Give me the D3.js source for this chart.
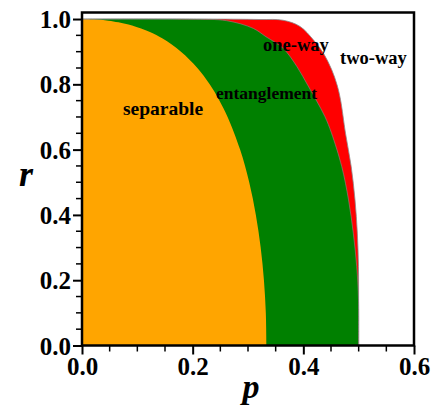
<!DOCTYPE html>
<html>
<head>
<meta charset="utf-8">
<script src="https://cdn.jsdelivr.net/npm/d3@7"></script>
<style>
  html, body { margin: 0; padding: 0; background: #fff; }
  svg { display: block; }
  text { font-family: "Liberation Serif", "Times New Roman", serif; font-weight: bold; fill: #000; }
</style>
</head>
<body>
<svg id="chart" width="433" height="405"></svg>
<script>
// ---- data ----
// separable region boundary (orange)
const sepP = [0, 0.0219, 0.0476, 0.0659, 0.0905, 0.1228, 0.1457, 0.1789, 0.2085, 0.2308, 0.2485, 0.2631, 0.2857, 0.3022, 0.3142, 0.3229, 0.3288, 0.3322, 0.3333];
const sepR = [1, 0.999, 0.995, 0.99, 0.98, 0.96, 0.94, 0.9, 0.85, 0.8, 0.75, 0.7, 0.6, 0.5, 0.4, 0.3, 0.2, 0.1, 0];
// entanglement / one-way boundary (green)
const entP = [0, 0.1952, 0.2615, 0.3096, 0.3325, 0.3633, 0.3886, 0.4085, 0.4229, 0.4392, 0.4509, 0.4694, 0.4817, 0.4903, 0.4965, 0.4997, 0.5];
const entR = [1, 0.9994, 0.9948, 0.9712, 0.9457, 0.9105, 0.8538, 0.7955, 0.7526, 0.7005, 0.6505, 0.5481, 0.446, 0.344, 0.2416, 0.1395, 0];
// one-way / two-way boundary (red)
const oneP = [0, 0.2133, 0.3217, 0.3633, 0.394, 0.418, 0.4361, 0.4513, 0.4609, 0.4672, 0.4762, 0.4865, 0.4934, 0.4976, 0.4996, 0.4999, 0.5];
const oneR = [1, 1, 0.9985, 0.9963, 0.9773, 0.9365, 0.8958, 0.8446, 0.7986, 0.7526, 0.6505, 0.5481, 0.446, 0.344, 0.2416, 0.1395, 0];

const xTicks = [0, 0.2, 0.4, 0.6];
const yTicks = [0, 0.2, 0.4, 0.6, 0.8, 1.0];
const xMinor = [0.05, 0.1, 0.15, 0.25, 0.3, 0.35, 0.45, 0.5, 0.55];
const yMinor = [0.05, 0.1, 0.15, 0.25, 0.3, 0.35, 0.45, 0.5, 0.55, 0.65, 0.7, 0.75, 0.85, 0.9, 0.95];
const regionLabels = ["separable", "entanglement", "one-way", "two-way"];
const xTitle = "p", yTitle = "r";

// ---- drawing ----
const svg = d3.select("#chart");
const x = d3.scaleLinear().domain([0, 0.6]).range([82, 414]);
const y = d3.scaleLinear().domain([0, 1.02]).range([345.5, 12.5]);

const curve = d3.line().x(d => x(d[0])).y(d => y(d[1])).curve(d3.curveCatmullRom.alpha(0.5));
function region(P, R) {
  const pts = P.map((p, i) => [p, R[i]]);
  return "M" + x(0) + "," + y(0) + "L" + curve(pts).slice(1) + "Z";
}
function edge(P, R) {
  return curve(P.map((p, i) => [p, R[i]]));
}

svg.append("path").attr("d", region(oneP, oneR)).attr("fill", "#ff0000");
svg.append("path").attr("d", region(entP, entR)).attr("fill", "#008000");
svg.append("path").attr("d", region(sepP, sepR)).attr("fill", "#ffa500");
svg.append("path").attr("d", edge(oneP, oneR)).attr("fill", "none").attr("stroke", "#8a8a8a").attr("stroke-width", 0.8);
svg.append("path").attr("d", edge(entP, entR)).attr("fill", "none").attr("stroke", "#8a8a8a").attr("stroke-width", 0.6);

// region labels
const labelPos = [[123, 115, 19.5], [216, 99, 17.5], [263, 51, 18.5], [340, 64, 18.5]];
regionLabels.forEach((t, i) => {
  svg.append("text").attr("x", labelPos[i][0]).attr("y", labelPos[i][1])
    .attr("font-size", labelPos[i][2]).text(t);
});

// axes
const xAxis = d3.axisBottom(x).tickValues(xTicks).tickFormat(d3.format(".1f")).tickSize(9).tickSizeOuter(0).tickPadding(3);
const yAxis = d3.axisLeft(y).tickValues(yTicks).tickFormat(d3.format(".1f")).tickSize(9).tickSizeOuter(0).tickPadding(2);
const gx = svg.append("g").attr("transform", "translate(0,345.5)").call(xAxis);
const gy = svg.append("g").attr("transform", "translate(82,0)").call(yAxis);
[gx, gy].forEach(g => {
  g.select(".domain").remove();
  g.selectAll(".tick line").attr("stroke", "#000").attr("stroke-width", 2);
  g.selectAll(".tick text").attr("font-size", 25).attr("font-family", "Liberation Serif, serif").attr("font-weight", "bold").attr("fill", "#000");
});
gx.selectAll(".tick text").attr("dy", "0.71em");
gy.selectAll(".tick text").attr("dy", "0.34em");

svg.append("g").selectAll("line").data(xMinor).join("line")
  .attr("x1", d => x(d)).attr("x2", d => x(d)).attr("y1", 345.5).attr("y2", 351.5)
  .attr("stroke", "#000").attr("stroke-width", 1.5);
svg.append("g").selectAll("line").data(yMinor).join("line")
  .attr("y1", d => y(d)).attr("y2", d => y(d)).attr("x1", 82).attr("x2", 76)
  .attr("stroke", "#000").attr("stroke-width", 1.5);

// frame
svg.append("rect").attr("x", x(0)).attr("y", y(1.02)).attr("width", x(0.6) - x(0)).attr("height", y(0) - y(1.02))
  .attr("fill", "none").attr("stroke", "#000").attr("stroke-width", 2.5);

// axis titles
svg.append("text").attr("x", 26).attr("y", 186).attr("text-anchor", "middle")
  .attr("font-size", 36).attr("font-style", "italic").text(yTitle);
svg.append("text").attr("x", 251).attr("y", 398).attr("text-anchor", "middle")
  .attr("font-size", 34).attr("font-style", "italic").text(xTitle);
</script>
</body>
</html>
